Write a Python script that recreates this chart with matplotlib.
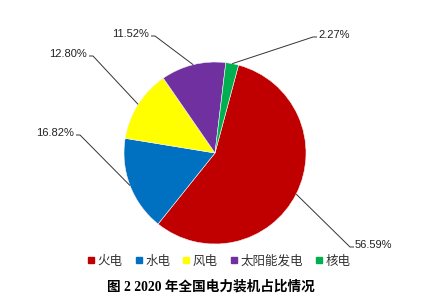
import matplotlib
matplotlib.use("Agg")
import matplotlib.pyplot as plt
import numpy as np

categories = ["火电", "水电", "风电", "太阳能发电", "核电"]
values = [56.59, 16.82, 12.80, 11.52, 2.27]
label_texts = ["56.59%", "16.82%", "12.80%", "11.52%", "2.27%"]
colors = ["#C00000", "#0070C0", "#FFFF00", "#7030A0", "#00B050"]
title = "图 2 2020 年全国电力装机占比情况"

plt.rcParams['font.family'] = ['Noto Sans CJK SC', 'DejaVu Sans']

W, H = 431, 307
fig = plt.figure(figsize=(W / 100, H / 100), dpi=100)
ax = fig.add_axes([0, 0, 1, 1])
ax.set_xlim(0, W)
ax.set_ylim(0, H)
ax.set_aspect('equal')
ax.axis('off')

cx, cy, R = 215, H - 153, 91
startangle = 75
wedges, _ = ax.pie(values, colors=colors, startangle=startangle, counterclock=False,
                   center=(cx, cy), radius=R, frame=True,
                   wedgeprops=dict(edgecolor='#f4f4f4', linewidth=0.4))
ax.set_xlim(0, W)
ax.set_ylim(0, H)
ax.axis('off')

# label layout: (text anchor x, y in image px, ha)
label_pos = [(355, 245, 'left'), (74, 133, 'right'), (87, 54, 'right'),
             (149, 34, 'right'), (318, 35, 'left')]

for w, txt, (tx, ty, ha) in zip(wedges, label_texts, label_pos):
    mid = np.deg2rad((w.theta1 + w.theta2) / 2)
    px, py = cx + R * np.cos(mid), cy + R * np.sin(mid)
    tyd = H - ty - 2
    if ha == 'left':
        ex, hx = tx - 5, tx - 1
    else:
        ex, hx = tx + 6, tx + 2
    ax.plot([px, ex, hx], [py, tyd, tyd], color='#333333', lw=0.7,
            solid_capstyle='butt')
    ax.text(tx, H - ty, txt, ha=ha, va='center', fontsize=8,
            family=['Liberation Sans', 'DejaVu Sans'], color='#222222')

handles = [plt.Line2D([], [], marker='s', linestyle='none', markersize=5,
                      markerfacecolor=c, markeredgecolor=c) for c in colors]
fig.legend(handles, categories, loc='center', bbox_to_anchor=(219 / W, 1 - 261 / H),
           ncol=5, frameon=False, fontsize=9, handlelength=0.6, handletextpad=0.2,
           columnspacing=1.0, labelcolor='#333333')

fig.text(211 / W, 1 - 287 / H, title, ha='center', va='center', fontsize=9.8,
         fontweight='bold', color='black',
         family=['Liberation Serif', 'Noto Sans CJK SC', 'DejaVu Sans'])

fig.savefig("out.png", dpi=100)
